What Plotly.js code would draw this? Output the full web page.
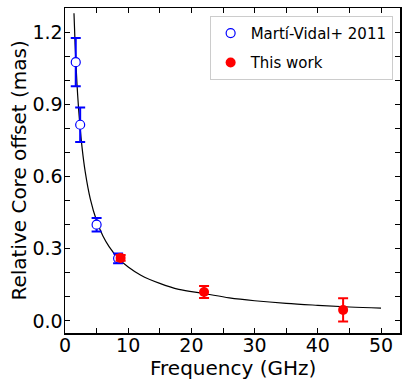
<!DOCTYPE html>
<html>
<head>
<meta charset="utf-8">
<script src="https://cdn.plot.ly/plotly-3.0.1.min.js"></script>
<style>
  html, body { margin:0; padding:0; background:#fff; }
  #chart { width:407px; height:386px; }
</style>
</head>
<body>
<div id="chart"></div>
<script>
// Marti-Vidal+ 2011 points (open blue)
var mvFreq = [1.7, 2.4, 5.0, 8.4];
var mvOffset = [1.075, 0.815, 0.40, 0.26];
var mvErr = [0.10, 0.072, 0.028, 0.02];

// this work (filled red)
var twFreq = [8.8, 22, 44];
var twOffset = [0.262, 0.12, 0.046];
var twErr = [0.012, 0.025, 0.048];

// fitted curve
var fitFreq = [1.42, 1.6, 1.8, 2.0, 2.3, 2.7, 3.2, 4, 5, 6, 7, 8.4, 10, 12, 15, 18, 22, 26, 30, 35, 40, 45, 50];
var fitOffset = [1.278, 1.149, 1.034, 0.94, 0.831, 0.72, 0.619, 0.507, 0.416, 0.353, 0.308, 0.261, 0.224, 0.19, 0.156, 0.131, 0.114, 0.096, 0.084, 0.073, 0.065, 0.058, 0.053];

var xTicks = [0, 10, 20, 30, 40, 50];
var yTicks = [0.0, 0.3, 0.6, 0.9, 1.2];
var yTickText = ["0.0", "0.3", "0.6", "0.9", "1.2"];

var traces = [
  {x:fitFreq, y:fitOffset, type:"scatter", mode:"lines", line:{color:"#000", width:1.2, shape:"spline"},
   showlegend:false, hoverinfo:"skip"},
  {x:mvFreq, y:mvOffset, type:"scatter", mode:"markers", name:"Martí-Vidal+ 2011", legendgroup:"mv",
   marker:{symbol:"circle", size:9, color:"#fff", line:{width:1.2, color:"#0000ff"}},
   error_y:{type:"data", array:mvErr, visible:true, color:"#0000ff", thickness:2, width:5}},
  {x:twFreq, y:twOffset, type:"scatter", mode:"markers", name:"This work", legendgroup:"tw",
   marker:{symbol:"circle", size:10, color:"#ff0000"},
   error_y:{type:"data", array:twErr, visible:true, color:"#ff0000", thickness:2, width:5}}
];

var axisCommon = {
  showgrid:false, zeroline:false, showline:true, linecolor:"#000", linewidth:1.5,
  mirror:"allticks", ticks:"inside", ticklen:5, tickwidth:1, tickcolor:"#000",
  tickfont:{family:"DejaVu Sans", size:19, color:"#000"}
};

var titleFont = {family:"DejaVu Sans", size:20, color:"#000"};

var layout = {
  width:407, height:386,
  margin:{l:65, r:7, t:8, b:53},
  paper_bgcolor:"#fff", plot_bgcolor:"#fff",
  font:{family:"DejaVu Sans", color:"#000"},
  xaxis:Object.assign({}, axisCommon, {
    range:[0, 53], tickvals:xTicks, ticklabelstandoff:-5,
    minor:{dtick:5, tick0:0, ticks:"inside", ticklen:5, tickcolor:"#000", tickwidth:1}
  }),
  yaxis:Object.assign({}, axisCommon, {
    range:[-0.05, 1.3], tickvals:yTicks, ticktext:yTickText, ticklabelstandoff:-3,
    minor:{dtick:0.1, tick0:0, ticks:"inside", ticklen:5, tickcolor:"#000", tickwidth:1}
  }),
  // axis titles placed as annotations to match the reference positions
  annotations:[
    {text:"Frequency (GHz)", xref:"paper", yref:"paper", x:0.5, y:-0.108, xanchor:"center", yanchor:"middle",
     showarrow:false, font:titleFont},
    {text:"Relative Core offset (mas)", xref:"paper", yref:"paper", x:-0.14, y:0.5, xanchor:"center", yanchor:"middle",
     textangle:-90, showarrow:false, font:titleFont}
  ],
  legend:{x:0.978, y:0.976, xanchor:"right", yanchor:"top",
    bgcolor:"#fff", bordercolor:"#cccccc", borderwidth:1,
    font:{family:"DejaVu Sans", size:15, color:"#000"}, tracegroupgap:7}
};

Plotly.newPlot("chart", traces, layout, {displayModeBar:false, staticPlot:true});
</script>
</body>
</html>
